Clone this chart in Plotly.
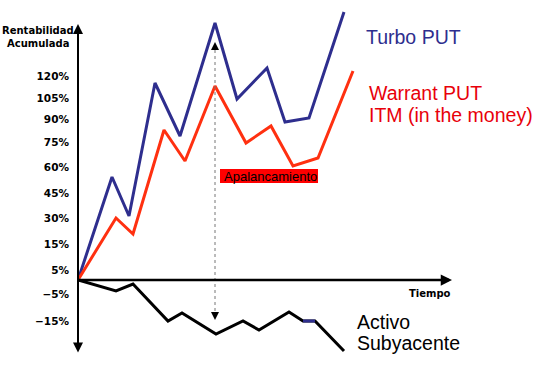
import plotly.graph_objects as go

# Schematic chart: x = time units, y = chart units (tick labels are schematic, not linear)
turbo_x = [0, 34, 51, 77, 102, 137, 159, 189, 207, 231, 266]
turbo_y = [0, 103, 64, 197, 144, 257, 181, 212, 158, 162, 268]

warrant_x = [0, 38, 55, 86, 107, 137, 168, 193, 215, 240, 275]
warrant_y = [0, 62, 46, 150, 119, 194, 137, 154, 114, 122, 209]

activo_x = [0, 38, 55, 90, 104, 138, 165, 181, 211, 225, 237, 266]
activo_y = [0, -11, -4, -41, -33, -54, -41, -50, -32, -41, -41, -71]

tick_pos = [204, 182, 161, 138, 113, 87, 62, 36, 10, -14, -41]
tick_text = ["120%", "105%", "90%", "75%", "60%", "45%", "30%", "15%", "5%", "\u22125%", "\u221215%"]

BLUE = "#2e2e8e"
RED_LINE = "#ff3010"
RED_TXT = "#e8000a"

fig = go.Figure()
fig.add_trace(go.Scatter(x=turbo_x, y=turbo_y, mode="lines",
                         line=dict(color=BLUE, width=3), hoverinfo="skip"))
fig.add_trace(go.Scatter(x=warrant_x, y=warrant_y, mode="lines",
                         line=dict(color=RED_LINE, width=3), hoverinfo="skip"))
fig.add_trace(go.Scatter(x=activo_x, y=activo_y, mode="lines",
                         line=dict(color="black", width=3), hoverinfo="skip"))
fig.add_trace(go.Scatter(x=activo_x[9:11], y=activo_y[9:11], mode="lines",
                         line=dict(color=BLUE, width=3), hoverinfo="skip"))

annotations = []
# y axis double arrow
annotations.append(dict(x=0, y=256, ax=0, ay=-74, xref="x", yref="y", axref="x", ayref="y",
                        text="", showarrow=True, arrowhead=2, arrowside="end+start",
                        arrowwidth=2, arrowsize=1, arrowcolor="black"))
# x axis arrow
annotations.append(dict(x=374, y=0, ax=0, ay=0, xref="x", yref="y", axref="x", ayref="y",
                        text="", showarrow=True, arrowhead=2, arrowwidth=2.5,
                        arrowsize=0.9, arrowcolor="black"))
# dotted arrow heads
annotations.append(dict(x=137, y=238, ax=137, ay=230, xref="x", yref="y", axref="x", ayref="y",
                        text="", showarrow=True, arrowhead=2, arrowwidth=1,
                        arrowsize=1.6, arrowcolor="black"))
annotations.append(dict(x=137, y=-40, ax=137, ay=-32, xref="x", yref="y", axref="x", ayref="y",
                        text="", showarrow=True, arrowhead=2, arrowwidth=1,
                        arrowsize=1.6, arrowcolor="black"))

bold = dict(family="DejaVu Sans", size=10, color="black", weight="bold")
annotations.append(dict(x=-40 / 468, y=250, xref="paper", yref="y", text="Rentabilidad",
                        showarrow=False, font=bold, xanchor="center", yanchor="middle"))
annotations.append(dict(x=-40 / 468, y=237, xref="paper", yref="y", text="Acumulada",
                        showarrow=False, font=bold, xanchor="center", yanchor="middle"))
annotations.append(dict(x=352, y=-13, xref="x", yref="y", text="Tiempo",
                        showarrow=False, font=bold, xanchor="center", yanchor="middle"))

big = dict(family="Liberation Sans, Arial", size=19.5)
annotations.append(dict(x=286, y=243, xref="x", yref="y", text="Turbo PUT", showarrow=False,
                        font=dict(**big, color=BLUE), xanchor="left", yanchor="middle"))
annotations.append(dict(x=289, y=187, xref="x", yref="y", text="Warrant PUT", showarrow=False,
                        font=dict(**big, color=RED_TXT), xanchor="left", yanchor="middle"))
annotations.append(dict(x=289, y=165, xref="x", yref="y", text="ITM (in the money)", showarrow=False,
                        font=dict(**big, color=RED_TXT), xanchor="left", yanchor="middle"))
annotations.append(dict(x=277, y=-42, xref="x", yref="y", text="Activo", showarrow=False,
                        font=dict(**big, color="black"), xanchor="left", yanchor="middle"))
annotations.append(dict(x=277, y=-63, xref="x", yref="y", text="Subyacente", showarrow=False,
                        font=dict(**big, color="black"), xanchor="left", yanchor="middle"))
annotations.append(dict(x=192, y=104, xref="x", yref="y", text="Apalancamiento", showarrow=False,
                        font=dict(family="Liberation Sans, Arial", size=13, color="black"),
                        xanchor="center", yanchor="middle"))

shapes = [
    dict(type="rect", x0=142, x1=240, y0=97, y1=111, xref="x", yref="y",
         fillcolor="#ff0000", line=dict(width=0), layer="below"),
    dict(type="line", x0=137, x1=137, y0=236, y1=-38, xref="x", yref="y",
         line=dict(color="#777", width=1, dash="dot")),
]

fig.update_layout(
    width=546, height=370,
    margin=dict(l=78, r=0, t=0, b=0),
    paper_bgcolor="white", plot_bgcolor="white",
    showlegend=False,
    xaxis=dict(range=[0, 468], showgrid=False, zeroline=False, showline=False,
               showticklabels=False, ticks=""),
    yaxis=dict(range=[-90, 280], showgrid=False, zeroline=False, showline=False,
               tickmode="array", tickvals=tick_pos, ticktext=tick_text, ticks="",
               ticklabelstandoff=8,
               tickfont=dict(family="DejaVu Sans", size=10.5, color="black", weight="bold")),
    annotations=annotations,
    shapes=shapes,
)

fig.write_html("out.html", config={"displayModeBar": False})
